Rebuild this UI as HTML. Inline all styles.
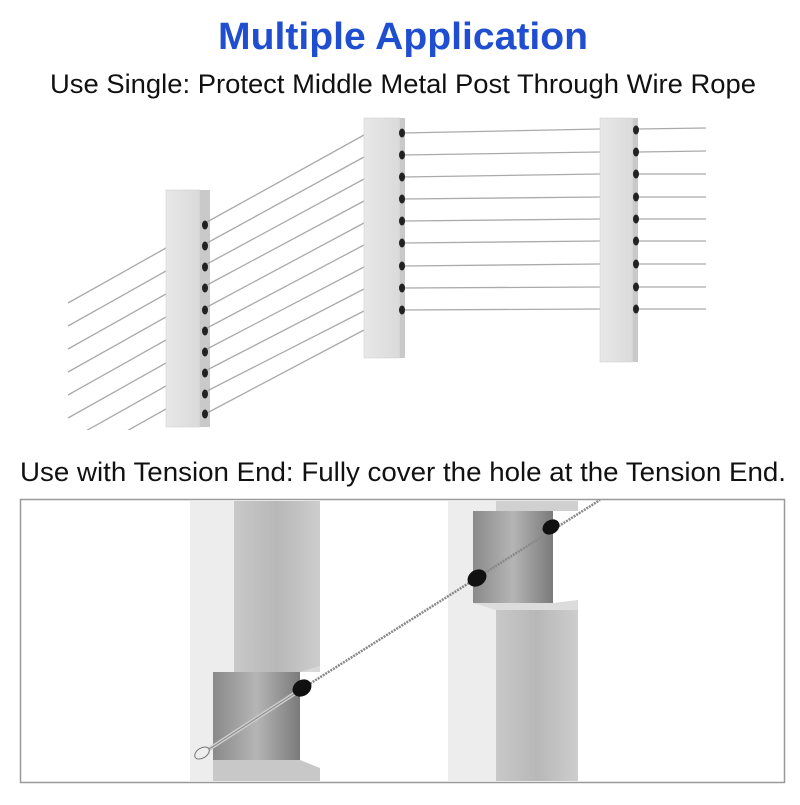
<!DOCTYPE html>
<html><head><style>
body{margin:0;width:800px;height:800px;background:#fff;overflow:hidden;font-family:"Liberation Sans",sans-serif;}
</style></head><body>
<svg width="800" height="800" viewBox="0 0 800 800" xmlns="http://www.w3.org/2000/svg">
<defs>
<linearGradient id="fc" x1="0" x2="1"><stop offset="0" stop-color="#e8e8e8"/><stop offset="1" stop-color="#dadada"/></linearGradient>
<linearGradient id="dk" x1="0" x2="1"><stop offset="0" stop-color="#c8c8c8"/><stop offset="0.5" stop-color="#b8b8b8"/><stop offset="1" stop-color="#cdcdcd"/></linearGradient>
<linearGradient id="cut" x1="0" x2="1"><stop offset="0" stop-color="#8a8a8a"/><stop offset="0.5" stop-color="#b5b5b5"/><stop offset="1" stop-color="#7a7a7a"/></linearGradient>
<clipPath id="lc"><rect x="0" y="0" width="166" height="430"/></clipPath>
</defs>
<text x="403" y="49" text-anchor="middle" font-size="38" font-weight="bold" fill="#1f4fd0" textLength="370" lengthAdjust="spacingAndGlyphs">Multiple Application</text>
<text x="403" y="93" text-anchor="middle" font-size="27" fill="#111" textLength="706" lengthAdjust="spacingAndGlyphs">Use Single: Protect Middle Metal Post Through Wire Rope</text>

<g stroke="#aaa" stroke-width="1.3" clip-path="url(#lc)">
<line x1="68" y1="303" x2="166" y2="248"/><line x1="68" y1="326" x2="166" y2="271"/>
<line x1="68" y1="349" x2="166" y2="294"/><line x1="68" y1="372" x2="166" y2="317"/>
<line x1="68" y1="395" x2="166" y2="340"/><line x1="68" y1="418" x2="166" y2="363"/>
<line x1="68" y1="441" x2="166" y2="386"/><line x1="68" y1="464" x2="166" y2="409"/>
<line x1="68" y1="487" x2="166" y2="432"/>
</g>
<rect x="166" y="190" width="34" height="237" fill="url(#fc)" stroke="#ccc" stroke-width="0.5"/>
<rect x="200" y="190" width="10" height="237" fill="#c9c9c9"/>
<g stroke="#aaa" stroke-width="1.3">
<line x1="207" y1="222" x2="364" y2="135"/><line x1="207" y1="243" x2="364" y2="157"/>
<line x1="207" y1="264" x2="364" y2="179"/><line x1="207" y1="285" x2="364" y2="201"/>
<line x1="207" y1="307" x2="364" y2="223"/><line x1="207" y1="328" x2="364" y2="245"/>
<line x1="207" y1="349" x2="364" y2="267"/><line x1="207" y1="370" x2="364" y2="289"/>
<line x1="207" y1="391" x2="364" y2="311"/><line x1="207" y1="413" x2="364" y2="330"/>
</g>
<g fill="#222">
<ellipse cx="205" cy="225" rx="3" ry="4.5"/><ellipse cx="205" cy="246" rx="3" ry="4.5"/><ellipse cx="205" cy="267" rx="3" ry="4.5"/><ellipse cx="205" cy="288" rx="3" ry="4.5"/><ellipse cx="205" cy="310" rx="3" ry="4.5"/><ellipse cx="205" cy="331" rx="3" ry="4.5"/><ellipse cx="205" cy="352" rx="3" ry="4.5"/><ellipse cx="205" cy="373" rx="3" ry="4.5"/><ellipse cx="205" cy="394" rx="3" ry="4.5"/><ellipse cx="205" cy="414" rx="3" ry="4.5"/>
</g>
<rect x="364" y="118" width="36" height="240" fill="url(#fc)" stroke="#ccc" stroke-width="0.5"/>
<rect x="400" y="118" width="5" height="240" fill="#c9c9c9"/>
<g stroke="#aaa" stroke-width="1.3">
<line x1="403" y1="133" x2="600" y2="129"/><line x1="403" y1="155" x2="600" y2="152"/><line x1="403" y1="177" x2="600" y2="174"/><line x1="403" y1="199" x2="600" y2="197"/><line x1="403" y1="221" x2="600" y2="219"/><line x1="403" y1="243" x2="600" y2="241"/><line x1="403" y1="266" x2="600" y2="264"/><line x1="403" y1="288" x2="600" y2="287"/><line x1="403" y1="310" x2="600" y2="309"/>
</g>
<g fill="#222">
<ellipse cx="402" cy="133" rx="3" ry="4.5"/><ellipse cx="402" cy="155" rx="3" ry="4.5"/><ellipse cx="402" cy="177" rx="3" ry="4.5"/><ellipse cx="402" cy="199" rx="3" ry="4.5"/><ellipse cx="402" cy="221" rx="3" ry="4.5"/><ellipse cx="402" cy="243" rx="3" ry="4.5"/><ellipse cx="402" cy="266" rx="3" ry="4.5"/><ellipse cx="402" cy="288" rx="3" ry="4.5"/><ellipse cx="402" cy="310" rx="3" ry="4.5"/>
</g>
<rect x="600" y="118" width="33" height="244" fill="url(#fc)" stroke="#ccc" stroke-width="0.5"/>
<rect x="633" y="118" width="5" height="244" fill="#c9c9c9"/>
<g stroke="#aaa" stroke-width="1.3">
<line x1="638" y1="129" x2="706" y2="128"/><line x1="638" y1="152" x2="706" y2="151"/><line x1="638" y1="174" x2="706" y2="174"/><line x1="638" y1="197" x2="706" y2="197"/><line x1="638" y1="219" x2="706" y2="219"/><line x1="638" y1="241" x2="706" y2="241"/><line x1="638" y1="264" x2="706" y2="264"/><line x1="638" y1="287" x2="706" y2="287"/><line x1="638" y1="309" x2="706" y2="309"/>
</g>
<g fill="#222">
<ellipse cx="636" cy="130" rx="3" ry="4.5"/><ellipse cx="636" cy="152" rx="3" ry="4.5"/><ellipse cx="636" cy="174" rx="3" ry="4.5"/><ellipse cx="636" cy="197" rx="3" ry="4.5"/><ellipse cx="636" cy="219" rx="3" ry="4.5"/><ellipse cx="636" cy="241" rx="3" ry="4.5"/><ellipse cx="636" cy="264" rx="3" ry="4.5"/><ellipse cx="636" cy="287" rx="3" ry="4.5"/><ellipse cx="636" cy="309" rx="3" ry="4.5"/>
</g>

<text x="403" y="481" text-anchor="middle" font-size="27" fill="#111" textLength="766" lengthAdjust="spacingAndGlyphs">Use with Tension End: Fully cover  the hole at the Tension End.</text>

<rect x="20.5" y="499.5" width="764" height="283" fill="#fff" stroke="#999" stroke-width="1.5"/>
<rect x="190" y="501" width="44" height="280" fill="#ededed"/>
<rect x="234" y="501" width="86" height="171" fill="url(#dk)"/>
<rect x="213" y="672" width="87" height="88" fill="url(#cut)"/>
<polygon points="213,760 300,760 320,768 320,781 213,781" fill="#c8c8c8"/>
<polygon points="213,672 300,672 320,666 320,672" fill="#d8d8d8"/>
<rect x="448" y="501" width="48" height="280" fill="#ededed"/>
<rect x="496" y="501" width="82" height="10" fill="#d0d0d0"/>
<rect x="473" y="511" width="80" height="92" fill="url(#cut)"/>
<polygon points="473,603 553,603 578,600 578,610 496,610" fill="#dcdcdc"/>
<rect x="496" y="610" width="82" height="171" fill="url(#dk)"/>
<line x1="300" y1="690" x2="600" y2="500" stroke="#888" stroke-width="2.5" stroke-dasharray="2 1"/>
<line x1="200" y1="755" x2="300" y2="690" stroke="#ccc" stroke-width="4"/>
<line x1="200" y1="755" x2="300" y2="690" stroke="#888" stroke-width="1"/>
<ellipse cx="202" cy="753" rx="8" ry="5" transform="rotate(-33 202 753)" fill="#eee" stroke="#777"/>
<g fill="#111">
<ellipse cx="302" cy="688" rx="10" ry="8" transform="rotate(-33 302 688)"/>
<ellipse cx="477" cy="578" rx="10" ry="8" transform="rotate(-33 477 578)"/>
<ellipse cx="551" cy="527" rx="9" ry="7" transform="rotate(-33 551 527)"/>
</g>
</svg>
</body></html>
